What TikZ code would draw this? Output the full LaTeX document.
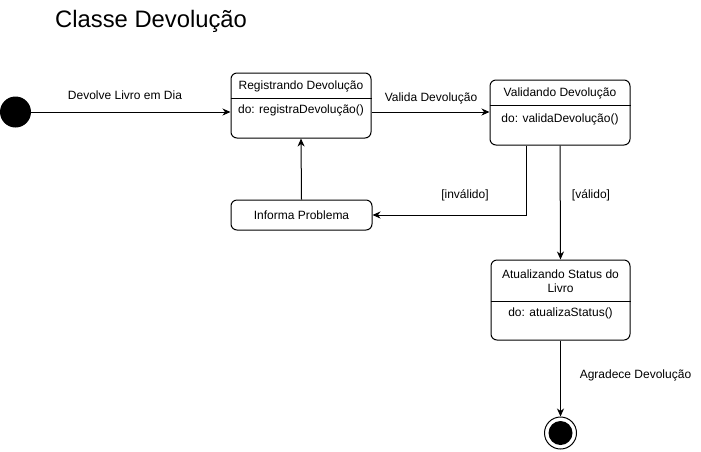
\documentclass[tikz,border=0pt]{standalone}
\usepackage{fontspec}
\setmainfont{Liberation Sans}
\usetikzlibrary{arrows.meta}
\begin{document}
\begin{tikzpicture}[x=1pt,y=-1pt,
  font=\fontsize{12}{14}\selectfont,
  statebox/.style={draw=black,line width=1pt,rounded corners=6pt,inner sep=0pt},
  lbl/.style={inner sep=0pt,anchor=center},
  arr/.style={draw=black,line width=1pt,-{Stealth[length=8pt,width=7pt,inset=2.5pt]}},
  divline/.style={draw=black,line width=1pt}]
\useasboundingbox (0,0) rectangle (701,451);
% title
\node[anchor=base west,inner sep=0pt,font=\fontsize{23.8}{28}\selectfont] (title) at (55,27.5) {Classe Devolução};
% initial state
\node[circle,fill=black,minimum size=31pt,inner sep=0pt] (init) at (15.5,112) {};
% box 1
\node[statebox,minimum width=140pt,minimum height=65pt] (b1) at (301,105.5) {};
\node[lbl] (b1t) at (301,86) {Registrando Devolução};
\draw[divline] (b1.west |- 0,98) -- (b1.east |- 0,98);
\node[lbl] (b1d) at (301,110) {do: registraDevolução()};
% box 2
\node[statebox,minimum width=140pt,minimum height=65pt] (b2) at (560,112.5) {};
\node[lbl] (b2t) at (560,93) {Validando Devolução};
\draw[divline] (b2.west |- 0,105) -- (b2.east |- 0,105);
\node[lbl] (b2d) at (560,119) {do: validaDevolução()};
% informa problema
\node[statebox,minimum width=141pt,minimum height=30pt] (inf) at (301.5,215) {Informa Problema};
% box 3
\node[statebox,minimum width=139pt,minimum height=80pt] (b3) at (560.5,300) {};
\node[lbl,align=center,font=\fontsize{12}{13.5}\selectfont] (b3t) at (560.5,281) {Atualizando Status do\\Livro};
\draw[divline] (b3.west |- 0,301) -- (b3.east |- 0,301);
\node[lbl] (b3d) at (560.5,313) {do: atualizaStatus()};
% final state
\node[circle,draw=black,line width=1pt,minimum size=32pt,inner sep=0pt] (fin) at (560.5,433) {};
\node[circle,fill=black,minimum size=24pt,inner sep=0pt] (finin) at (fin.center) {};
% connectors
\draw[arr] (init.east) -- (b1.west |- init.east);
\node[lbl] (l1) at (125,95) {Devolve Livro em Dia};
\draw[arr] (b1.east |- 0,112) -- (b2.west |- 0,112);
\node[lbl] (l2) at (431,98) {Valida Devolução};
\draw[arr] ([xshift=-34pt]b2.south) |- (inf.east);
\node[lbl] (l3) at (465,195) {[inválido]};
\draw[arr] (inf.north) -- (b1.south);
\draw[arr] (b2.south) -- (b3.north);
\node[lbl] (l4) at (591,195) {[válido]};
\draw[arr] (b3.south) -- (fin.north);
\node[lbl] (l5) at (635.5,375) {Agradece Devolução};
\end{tikzpicture}
\end{document}
